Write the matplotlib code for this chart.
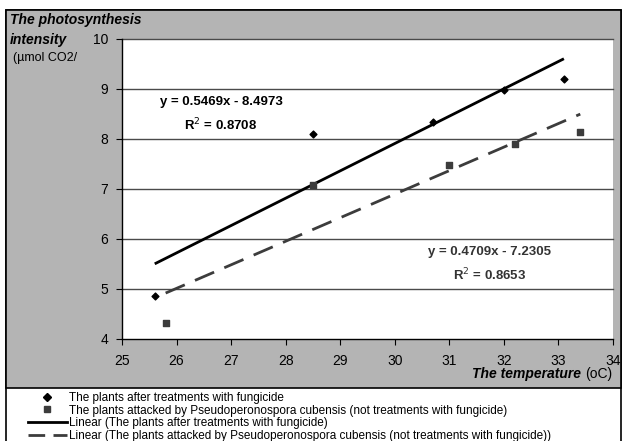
import matplotlib
matplotlib.use("Agg")
import matplotlib.pyplot as plt
from matplotlib.lines import Line2D
from matplotlib.patches import Rectangle
import numpy as np

plt.rcParams['font.family'] = ['Liberation Sans', 'DejaVu Sans']

# Data
temp_fungicide = [25.6, 28.5, 30.7, 32.0, 33.1]
photo_fungicide = [4.87, 8.10, 8.35, 8.97, 9.20]
temp_attacked = [25.8, 28.5, 31.0, 32.2, 33.4]
photo_attacked = [4.33, 7.08, 7.48, 7.90, 8.15]

fit_fungicide = (0.5469, -8.4973)
fit_attacked = (0.4709, -7.2305)
eq_fungicide = ["y = 0.5469x - 8.4973", "R$^{2}$ = 0.8708"]
eq_attacked = ["y = 0.4709x - 7.2305", "R$^{2}$ = 0.8653"]

labels = ["The plants after treatments with fungicide",
          "The plants attacked by Pseudoperonospora cubensis (not treatments with fungicide)",
          "Linear (The plants after treatments with fungicide)",
          "Linear (The plants attacked by Pseudoperonospora cubensis (not treatments with fungicide))"]

x_ticks = [25, 26, 27, 28, 29, 30, 31, 32, 33, 34]
y_ticks = [4, 5, 6, 7, 8, 9, 10]

W, H = 623, 441
fig = plt.figure(figsize=(W / 100, H / 100), dpi=100)

def fx(x):
    return x / W

def fy(y):
    return 1 - y / H

# background panels
fig.patches.append(Rectangle((fx(6), fy(452)), fx(621) - fx(6), fy(10) - fy(452),
                             transform=fig.transFigure, facecolor='white',
                             edgecolor='black', lw=1.2, zorder=-10))
fig.patches.append(Rectangle((fx(6), fy(388)), fx(621) - fx(6), fy(10) - fy(388),
                             transform=fig.transFigure, facecolor='#b4b4b4',
                             edgecolor='black', lw=1.2, zorder=-9))

ax = fig.add_axes([fx(122), fy(339), fx(613) - fx(122), fy(39) - fy(339)])
ax.set_facecolor('white')
ax.set_xlim(25, 34)
ax.set_ylim(4, 10)
ax.set_xticks(x_ticks)
ax.set_yticks(y_ticks)
ax.tick_params(axis='both', direction='out', length=4, width=0.8, labelsize=10, colors='black')
ax.tick_params(axis='x', pad=7)
ax.tick_params(axis='y', pad=6)
for s in ['top', 'right']:
    ax.spines[s].set_visible(False)
for s in ['left', 'bottom']:
    ax.spines[s].set_linewidth(1.0)
    ax.spines[s].set_color('black')
for yv in y_ticks[1:]:
    ax.axhline(yv, color='#4a4a4a', lw=1.0, zorder=1, clip_on=False)

ax.scatter(temp_fungicide, photo_fungicide, marker='D', s=12, color='black', zorder=4)
ax.scatter(temp_attacked, photo_attacked, marker='s', s=15, color='#3c3c3c', zorder=4)

xf = np.array([min(temp_fungicide), max(temp_fungicide)])
ax.plot(xf, fit_fungicide[0] * xf + fit_fungicide[1], color='black', lw=2, zorder=3,
        solid_capstyle='butt')
xa = np.array([min(temp_attacked), max(temp_attacked)])
ax.plot(xa, fit_attacked[0] * xa + fit_attacked[1], color='#3c3c3c', lw=2, zorder=3,
        dashes=(7.5, 4), dash_capstyle='butt')

# equation labels
fig.text(fx(221), fy(102), eq_fungicide[0], ha='center', va='center', fontsize=9.5, fontweight='bold')
fig.text(fx(221), fy(125), eq_fungicide[1], ha='center', va='center', fontsize=9.5, fontweight='bold')
fig.text(fx(490), fy(252), eq_attacked[0], ha='center', va='center', fontsize=9.5, fontweight='bold',
         color='#333333')
fig.text(fx(490), fy(275), eq_attacked[1], ha='center', va='center', fontsize=9.5, fontweight='bold',
         color='#333333')

# axis titles
fig.text(fx(10), fy(20), "The photosynthesis", ha='left', va='center', fontsize=10,
         fontweight='bold', style='italic')
fig.text(fx(10), fy(40), "intensity", ha='left', va='center', fontsize=10,
         fontweight='bold', style='italic')
fig.text(fx(13), fy(58), "(µmol CO2/", ha='left', va='center', fontsize=9)

t1 = fig.text(fx(612), fy(374), "(oC)", ha='right', va='center', fontsize=10)
fig.canvas.draw()
bb = t1.get_window_extent()
fig.text(bb.x0 / (W) - fx(4), fy(374), "The temperature", ha='right', va='center', fontsize=10,
         fontweight='bold', style='italic')

handles = [Line2D([], [], ls='none', marker='D', ms=4, color='black'),
           Line2D([], [], ls='none', marker='s', ms=4, color='#3c3c3c'),
           Line2D([], [], color='black', lw=2),
           Line2D([], [], color='#3c3c3c', lw=2, dashes=(6, 3))]
fig.legend(handles, labels, loc='upper left', bbox_to_anchor=(fx(28), fy(392)),
           frameon=False, fontsize=8.5, handlelength=3.3, handletextpad=0.2,
           labelspacing=0.05, borderpad=0, borderaxespad=0)

fig.savefig("out.png", dpi=100)
